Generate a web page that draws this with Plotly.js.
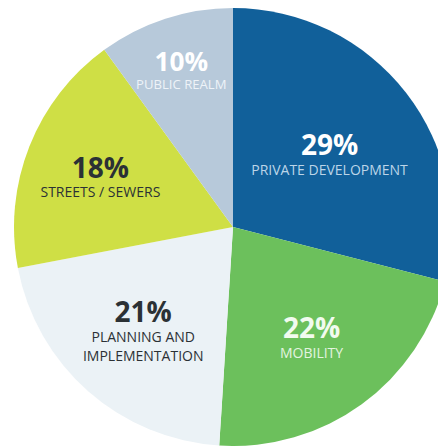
<!DOCTYPE html>
<html>
<head>
<meta charset="utf-8">
<script src="https://cdn.plot.ly/plotly-3.0.1.min.js"></script>
<style>
html, body { margin: 0; padding: 0; overflow: hidden; background: #ffffff; }
#chart { width: 452px; height: 446px; }
</style>
</head>
<body>
<div id="chart"></div>
<script>
const categories = ["PRIVATE DEVELOPMENT", "MOBILITY", "PLANNING AND<br>IMPLEMENTATION", "STREETS / SEWERS", "PUBLIC REALM"];
const shares = [29, 22, 21, 18, 10];
const sliceColors = ["#11609a", "#6cc05c", "#ebf2f6", "#cfdf45", "#b7c9da"];
const percentColors = ["#ffffff", "#f2fbef", "#2b3135", "#2b3135", "#ffffff"];
const labelColors = ["#bcd5e8", "#e4f4e0", "#2b3135", "#2b3135", "#eef3f8"];

const texts = categories.map((c, i) =>
  '<span style="font-size:28px;fill:' + percentColors[i] + '"><b>' + shares[i] + '%</b></span><br>' +
  '<span style="font-size:14px;fill:' + labelColors[i] + '">' + c + '</span>'
);

const trace = {
  type: "pie",
  values: shares,
  labels: categories,
  text: texts,
  textinfo: "text",
  textposition: "inside",
  insidetextorientation: "horizontal",
  sort: false,
  direction: "clockwise",
  rotation: 0,
  marker: { colors: sliceColors, line: { width: 0 } },
  textfont: { family: "Open Sans, sans-serif", size: 15, color: "#ffffff" },
  hoverinfo: "none",
  domain: { x: [14 / 452, 1], y: [0, 438 / 446] }
};

const layout = {
  width: 452,
  height: 446,
  margin: { l: 0, r: 0, t: 0, b: 0 },
  showlegend: false,
  paper_bgcolor: "#ffffff",
  plot_bgcolor: "#ffffff"
};

Plotly.newPlot("chart", [trace], layout, { displayModeBar: false, staticPlot: true });
</script>
</body>
</html>
